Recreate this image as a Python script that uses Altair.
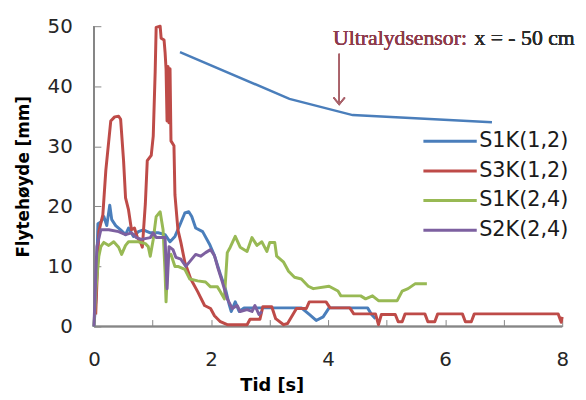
import altair as alt
import pandas as pd

# ---- data (time [s], height [mm]) ----
names = ["S1K(1,2)", "S3K(1,2)", "S1K(2,4)", "S2K(2,4)"]
colors = ["#4A7EBB", "#BE4B48", "#98B954", "#7D60A0"]

s1k12_t = [0.0, 0.034, 0.068, 0.118, 0.169, 0.219, 0.27, 0.304, 0.371, 0.456, 0.54, 0.591, 0.675, 0.759,
           0.844, 0.962, 1.097, 1.215, 1.30, 1.384, 1.468, 1.553, 1.62, 1.671, 1.738, 1.857, 1.975, 2.059,
           2.16, 2.245, 2.312, 2.346, 2.414, 2.481, 2.565, 3.544, 3.679, 3.797, 3.916, 4.017, 4.675, 4.743, 4.81]
s1k12_v = [0.0, 4.6, 17.1, 17.4, 18.3, 16.8, 20.2, 17.8, 16.8, 16.1, 15.3, 16.4, 15.0, 15.8,
           16.1, 15.6, 15.6, 15.3, 14.1, 15.0, 16.9, 18.9, 19.1, 18.3, 16.4, 15.8, 13.7, 11.8,
           8.7, 6.3, 3.6, 2.5, 4.1, 2.5, 3.1, 3.1, 2.0, 1.0, 1.6, 3.1, 3.1, 2.0, 1.3]

s3k12_t = [0.03, 0.084, 0.152, 0.203, 0.287, 0.354, 0.422, 0.456, 0.506, 0.54, 0.591, 0.641, 0.692, 0.743,
           0.793, 0.827, 0.878, 0.911, 0.979, 1.013, 1.046, 1.063, 1.131, 1.148, 1.198, 1.215, 1.232, 1.249,
           1.266, 1.283, 1.30, 1.316, 1.367, 1.384, 1.435, 1.485, 1.553, 1.654, 1.772, 1.89, 1.992, 2.059,
           2.16, 2.278, 2.616, 2.667, 2.835, 2.886, 3.038, 3.105, 3.241, 3.308, 3.46, 3.629, 3.679, 3.966,
           4.034, 4.371, 4.439, 4.81, 4.861, 4.911, 5.148, 5.198, 5.266, 5.316, 5.654, 5.705, 5.823, 5.873,
           6.295, 6.346, 6.447, 6.498, 7.932, 7.983, 8.0]
s3k12_v = [2.0, 15.8, 18.6, 26.0, 34.2, 34.9, 35.0, 34.5, 27.6, 21.4, 19.4, 16.1, 16.4, 14.8,
           14.1, 13.2, 20.4, 27.6, 28.5, 31.7, 42.4, 49.8, 50.0, 48.0, 47.7, 45.7, 42.9, 34.2,
           43.3, 33.9, 42.9, 30.9, 30.1, 21.9, 16.1, 14.0, 10.7, 7.9, 5.8, 3.5, 3.0, 1.8,
           0.8, 0.3, 0.3, 1.2, 1.2, 3.3, 3.3, 1.3, 0.3, 0.5, 3.0, 3.0, 4.1, 4.1,
           3.1, 3.1, 2.1, 2.1, 0.3, 2.0, 2.0, 0.8, 0.8, 2.1, 2.1, 0.8, 0.8, 2.1,
           2.1, 0.8, 0.8, 2.1, 2.1, 0.7, 1.6]

s1k24_t = [0.0, 0.034, 0.084, 0.118, 0.169, 0.253, 0.338, 0.422, 0.473, 0.54, 0.591, 0.759, 0.878, 0.928,
           0.962, 1.013, 1.063, 1.131, 1.181, 1.215, 1.232, 1.266, 1.316, 1.384, 1.435, 1.553, 1.637, 1.772,
           1.907, 1.992, 2.11, 2.16, 2.228, 2.278, 2.329, 2.414, 2.498, 2.616, 2.70, 2.785, 2.869, 2.954,
           3.004, 3.089, 3.122, 3.241, 3.325, 3.426, 3.544, 3.662, 3.747, 4.017, 4.169, 4.219, 4.557, 4.641,
           4.759, 4.861, 5.181, 5.266, 5.367, 5.485, 5.688]
s1k24_v = [0.0, 6.3, 11.7, 13.3, 14.0, 13.5, 14.1, 13.2, 12.0, 13.5, 14.1, 14.1, 13.8, 13.3,
           11.7, 14.5, 18.3, 19.1, 16.1, 9.0, 4.1, 11.7, 12.0, 10.0, 10.0, 9.5, 7.9, 7.6,
           7.4, 6.6, 6.6, 5.8, 4.6, 12.3, 13.2, 15.0, 13.2, 12.5, 14.8, 13.5, 14.1, 12.5,
           14.0, 14.0, 11.7, 10.7, 9.2, 8.2, 7.9, 6.7, 6.3, 6.7, 5.9, 5.1, 5.1, 4.6,
           5.1, 4.3, 4.3, 5.9, 6.3, 7.1, 7.1]

s2k24_t = [0.0, 0.017, 0.05, 0.118, 0.253, 0.422, 0.54, 0.641, 0.726, 0.81, 0.962, 1.013, 1.063, 1.215,
           1.249, 1.283, 1.35, 1.401, 1.485, 1.57, 1.654, 1.738, 1.823, 1.907, 1.992, 2.059, 2.11, 2.194,
           2.278, 2.363, 2.447, 2.498, 2.616, 2.70, 2.751, 2.819, 2.869]
s2k24_v = [0.0, 4.6, 13.3, 16.1, 16.1, 15.8, 15.3, 15.6, 14.8, 14.5, 14.8, 15.6, 14.8, 14.8,
           6.3, 13.3, 12.8, 11.5, 11.2, 10.0, 11.0, 12.0, 11.7, 12.3, 12.8, 11.8, 10.0, 7.4,
           4.6, 3.0, 3.5, 2.5, 2.8, 2.5, 3.5, 2.0, 2.5]

sensor_t = [1.47, 3.34, 4.42, 6.80]
sensor_v = [45.7, 37.9, 35.2, 34.0]

x_ticks = [0, 1, 2, 3, 4, 5, 6, 7, 8]
y_ticks = [0, 5, 10, 15, 20, 25, 30, 35, 40, 45, 50]

annot_label = "Ultralydsensor:"
annot_value = "x = - 50 cm"

# ---- tables ----
rows = []
for name, ts, vs in zip(names, [s1k12_t, s3k12_t, s1k24_t, s2k24_t], [s1k12_v, s3k12_v, s1k24_v, s2k24_v]):
    for i, (t, v) in enumerate(zip(ts, vs)):
        rows.append({"serie": name, "t": t, "v": v, "i": i})
df = pd.DataFrame(rows)
sensor_df = pd.DataFrame({"t": sensor_t, "v": sensor_v, "i": range(len(sensor_t))})

font = "DejaVu Sans"
axis_gray = "#868686"

x_enc = alt.X("t:Q", scale=alt.Scale(domain=[0, 8], nice=False),
              axis=alt.Axis(values=x_ticks, format="d",
                            labelExpr="datum.value % 2 == 0 ? datum.label : ''",
                            labelFlush=False, labelOverlap=False,
                            domain=False, grid=False, tickSize=7, offset=-7, tickColor=axis_gray,
                            labelFont=font, labelFontSize=20, labelColor="#262626", labelPadding=23,
                            labelBaseline="top",
                            title="Tid [s]", titleFont=font, titleFontSize=18, titleFontWeight="bold",
                            titleColor="#000000", titleX=180, titleY=58, titleBaseline="top",
                            titleAlign="center"))
y_enc = alt.Y("v:Q", scale=alt.Scale(domain=[0, 50], nice=False),
              axis=alt.Axis(values=y_ticks, format="d",
                            labelExpr="datum.value % 10 == 0 ? datum.label : ''",
                            labelOverlap=False,
                            domain=False, grid=False, tickSize=7, offset=-7, tickColor=axis_gray,
                            labelFont=font, labelFontSize=20, labelColor="#262626", labelPadding=22,
                            title="Flytehøyde [mm]", titleFont=font, titleFontSize=17,
                            titleFontWeight="bold", titleColor="#000000",
                            titleX=-78, titleY=152, titleAlign="center", titleBaseline="middle",
                            titleAngle=270))

# legend symbol: a wide horizontal stroke (path spans 6 units of sqrt(size)/2)
lines = alt.Chart(df).mark_line(strokeWidth=3, strokeJoin="round").encode(
    x=x_enc,
    y=y_enc,
    color=alt.Color("serie:N", scale=alt.Scale(domain=names, range=colors),
                    legend=alt.Legend(orient="none", legendX=350, legendY=106, title=None,
                                      symbolType="M-3,0H3", symbolSize=324, symbolStrokeWidth=3,
                                      labelFont=font, labelFontSize=21, labelColor="#1a1a1a",
                                      rowPadding=8, labelOffset=19, padding=0)),
    order="i:Q",
)

sensor = alt.Chart(sensor_df).mark_line(strokeWidth=2.5, color=colors[0]).encode(
    x="t:Q", y="v:Q", order="i:Q")

x_axis_line = alt.Chart(sensor_df).mark_rule(color=axis_gray, strokeWidth=1.5).encode(y=alt.datum(0))
y_axis_line = alt.Chart(sensor_df).mark_rule(color=axis_gray, strokeWidth=1.5).encode(x=alt.datum(0))

arrow_color = "#A9626A"
arrow_shaft = alt.Chart(sensor_df).mark_rule(color=arrow_color, strokeWidth=1.5).encode(
    x=alt.datum(4.19), y=alt.datum(45.4), y2=alt.datum(37.2))
arrow_head = alt.Chart(sensor_df).mark_point(shape="M-1,-1.2L0,0L1,-1.2", filled=False, size=130,
                                              color=arrow_color, strokeWidth=1.5, opacity=1).encode(
    x=alt.datum(4.19), y=alt.datum(37.0))

txt1 = alt.Chart(sensor_df).mark_text(text=annot_label, font="Liberation Serif", fontSize=22,
                                       color="#8E3B4B", align="left", baseline="alphabetic").encode(
    x=alt.datum(4.085), y=alt.datum(46.8))
txt2 = alt.Chart(sensor_df).mark_text(text=annot_value, font="Liberation Serif", fontSize=22,
                                       color="#2b2b2b", align="left", baseline="alphabetic").encode(
    x=alt.datum(6.50), y=alt.datum(46.8))

chart = alt.layer(x_axis_line, y_axis_line, lines, sensor, arrow_shaft, arrow_head, txt1, txt2).properties(
    width=474, height=304,
    autosize=alt.AutoSizeParams(type="none"),
    padding={"left": 87, "top": 16, "right": 16, "bottom": 72},
    background="white",
).configure_view(stroke=None)

chart.save("out.html", embed_options={"renderer": "svg", "actions": False})
